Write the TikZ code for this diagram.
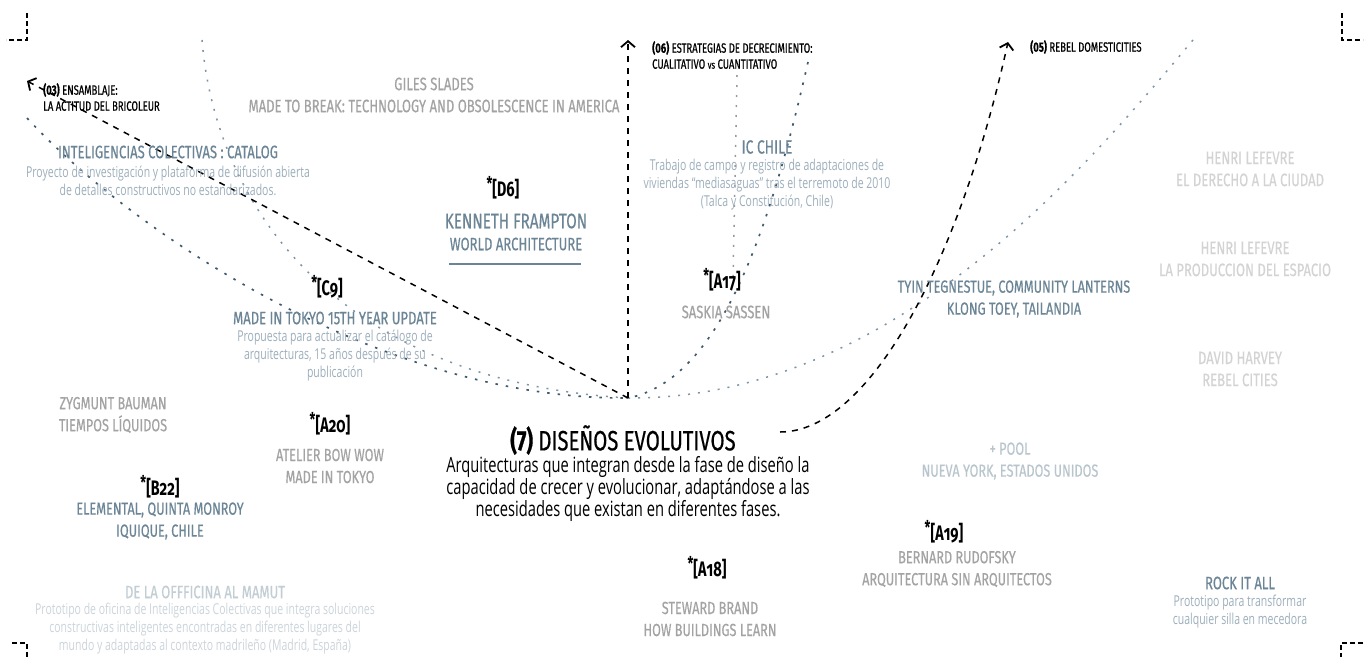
\documentclass[tikz,border=0pt]{standalone}
\usepackage{fontspec}
\usetikzlibrary{arrows.meta}
\newfontfamily\hd[FakeStretch=0.725,FakeBold=0.5]{Fira Sans}
\newfontfamily\hdo[FakeStretch=0.7,Numbers=OldStyle]{Fira Sans}
\newfontfamily\tgf[FakeStretch=0.68]{Fira Sans}
\newfontfamily\lb[FakeStretch=0.7,FakeBold=0.6]{Fira Sans}
\newfontfamily\ds[FakeStretch=0.7]{Open Sans}
\definecolor{cblue}{HTML}{6B8596}
\definecolor{cdesc}{HTML}{9CAEBB}
\definecolor{cgray}{HTML}{A3A3A3}
\definecolor{cvlight}{HTML}{D3D3D3}
\definecolor{cpool}{HTML}{B9C5CD}
\definecolor{cmamut}{HTML}{C3CDD4}
\definecolor{cmamutd}{HTML}{CBD4DA}
\definecolor{cdotdark}{HTML}{3F5A6C}
\definecolor{cdotlight}{HTML}{7D95A6}
\definecolor{cdotgray}{HTML}{9A9A9A}
\newcommand\tg[2]{\raisebox{0.3em}{\fontsize{19}{19}\selectfont *}[#1{\hdo\bfseries #2}]}
\begin{document}
\begin{tikzpicture}[x=1pt,y=-1pt,
  every node/.style={inner sep=0pt},
  head/.style={font=\hd\fontsize{18}{22}\selectfont, align=center},
  hgray/.style={head, text=cgray},
  hblue/.style={head, text=cblue},
  hvlight/.style={head, text=cvlight},
  desc/.style={font=\ds\fontsize{15}{18}\selectfont, text=cdesc, align=center},
  tagst/.style={font=\tgf\bfseries\fontsize{21}{24}\selectfont, text=black},
  lab/.style={font=\lb\fontsize{13.5}{16}\selectfont, text=black, align=left, anchor=west},
  blackdash/.style={draw=black, line width=1.5pt, dash pattern=on 6pt off 6pt},
  dotdark/.style={draw=cdotdark, line width=1.7pt, dash pattern=on 2.5pt off 8pt},
  dotlight/.style={draw=cdotlight, line width=1.5pt, dash pattern=on 2pt off 8pt},
  dotgray/.style={draw=cdotgray, line width=1.5pt, dash pattern=on 2pt off 8pt},
  corner/.style={draw=black, line width=2pt, dash pattern=on 5pt off 3pt},
  barb/.style={-{Straight Barb[length=6pt,width=14pt,line width=1.8pt]}}
]
\useasboundingbox (0,0) rectangle (1365,657);

% corner marks
\coordinate (tl1) at (27,13); \coordinate (tl2) at (27,40); \coordinate (tl3) at (6,40);
\draw[corner] (tl1) -- (tl2) -- (tl3);
\coordinate (tr1) at (1342,13); \coordinate (tr2) at (1342,40); \coordinate (tr3) at (1363,40);
\draw[corner] (tr1) -- (tr2) -- (tr3);
\coordinate (bl1) at (12,643); \coordinate (bl2) at (27,643); \coordinate (bl3) at (27,657);
\draw[corner] (bl1) -- (bl2) -- (bl3);
\coordinate (br1) at (1363,643); \coordinate (br2) at (1341,643); \coordinate (br3) at (1341,657);
\draw[corner] (br1) -- (br2) -- (br3);

% hub and line ends
\coordinate (hub) at (628,398);
\coordinate (e06) at (628,40);
\coordinate (e03) at (27,81);
\coordinate (e05) at (1008,42);
\coordinate (s7) at (780,432);
\coordinate (pL) at (27,118);
\coordinate (pT) at (202,40);
\coordinate (pV1) at (737,75);
\coordinate (pV2) at (733,280);
\coordinate (pR1) at (808,62);
\coordinate (pR2) at (1193,40);

% dotted connectors
\draw[dotdark] (pL) .. controls (130,230) and (380,400) .. (hub);
\draw[dotlight] (pT) .. controls (215,200) and (330,380) .. (hub);
\draw[dotgray] (pV1) -- (pV2);
\draw[dotdark] (pR1) .. controls (770,230) and (720,380) .. (hub);
\draw[dotlight] (pR2) .. controls (1100,150) and (900,400) .. (hub);

% dashed arrows
\draw[blackdash, barb] (hub) -- (e06);
\draw[blackdash, barb] (hub) -- (e03);
\draw[blackdash, barb] (s7) .. controls (870,432) and (960,260) .. (e05);

% labels
\node[lab] (l03) at (43,97) {{\bfseries (03)} ENSAMBLAJE:\\LA ACTITUD DEL BRICOLEUR};
\node[lab] (l06) at (652,55) {{\bfseries (06)} ESTRATEGIAS DE DECRECIMIENTO:\\CUALITATIVO {\fontsize{11}{16}\selectfont vs} CUANTITATIVO};
\node[lab] (l05) at (1030,47) {{\bfseries (05)} REBEL DOMESTICITIES};

% heads
\node[hgray] (giles) at (434,95) {GILES SLADES\\MADE TO BREAK: TECHNOLOGY AND OBSOLESCENCE IN AMERICA};
\node[hblue] (intel) at (168,152) {INTELIGENCIAS COLECTIVAS : CATALOG};
\node[desc] (inteld) at (168,181) {Proyecto de investigación y plataforma de difusión abierta\\de detalles constructivos no estandarizados.};
\node[tagst] (d6) at (503,188) {\tg{D}{6}};
\node[hblue] (kf) at (516,232) {{\fontsize{21}{22}\selectfont KENNETH FRAMPTON}\\WORLD ARCHITECTURE};
\coordinate (kfu1) at (449,264); \coordinate (kfu2) at (581,264);
\draw[cblue, line width=2pt] (kfu1) -- (kfu2);
\node[hblue, font=\hd\fontsize{19}{22}\selectfont] (icc) at (767,147) {IC CHILE};
\node[desc] (iccd) at (767,185) {Trabajo de campo y registro de adaptaciones de\\viviendas “mediasaguas” tras el terremoto de 2010\\(Talca y Constitución, Chile)};
\node[hvlight] (hl1) at (1250,169) {HENRI LEFEVRE\\EL DERECHO A LA CIUDAD};
\node[hvlight] (hl2) at (1245,259) {HENRI LEFEVRE\\LA PRODUCCION DEL ESPACIO};
\node[hvlight] (dh) at (1240,369) {DAVID HARVEY\\REBEL CITIES};
\node[hblue, font=\hd\fontsize{17.5}{22}\selectfont] (tyin) at (1014,299) {TYIN TEGNESTUE, COMMUNITY LANTERNS\\KLONG TOEY, TAILANDIA};
\node[tagst] (a17) at (722,280) {\tg{A}{17}};
\node[hgray] (saskia) at (726,312) {SASKIA SASSEN};
\node[tagst] (c9) at (327,287) {\tg{C}{9}};
\node[hblue] (mit) at (335,318) {MADE IN TOKYO 15TH YEAR UPDATE};
\node[desc] (mitd) at (335,356) {Propuesta para actualizar el catálogo de\\arquitecturas, 15 años después de su\\publicación};
\node[hgray, font=\hd\fontsize{17.5}{22}\selectfont] (zb) at (113,415) {ZYGMUNT BAUMAN\\TIEMPOS LÍQUIDOS};
\node[tagst] (a20) at (330,424) {\tg{A}{20}};
\node[hgray, font=\hd\fontsize{17.5}{22}\selectfont] (abw) at (330,466) {ATELIER BOW WOW\\MADE IN TOKYO};
\node[tagst] (b22) at (160,487) {\tg{B}{22}};
\node[hblue, font=\hd\fontsize{17.5}{22}\selectfont] (elem) at (160,521) {ELEMENTAL, QUINTA MONROY\\IQUIQUE, CHILE};
\node[font=\hd\fontsize{28}{30}\selectfont, text=black] (t7) at (623,440) {{\bfseries (7)} DISEÑOS EVOLUTIVOS};
\node[font=\ds\fontsize{21}{22}\selectfont, text=black, align=center] (t7d) at (628,489) {Arquitecturas que integran desde la fase de diseño la\\capacidad de crecer y evolucionar, adaptándose a las\\necesidades que existan en diferentes fases.};
\node[head, text=cpool, font=\hd\fontsize{17.5}{22}\selectfont] (pool) at (1010,461) {+ POOL\\NUEVA YORK, ESTADOS UNIDOS};
\node[tagst] (a19) at (944,532) {\tg{A}{19}};
\node[hgray, font=\hd\fontsize{17.5}{22}\selectfont] (br) at (957,569) {BERNARD RUDOFSKY\\ARQUITECTURA SIN ARQUITECTOS};
\node[tagst] (a18) at (707,568) {\tg{A}{18}};
\node[hgray, font=\hd\fontsize{17.5}{22}\selectfont] (sb) at (710,619) {STEWARD BRAND\\HOW BUILDINGS LEARN};
\node[head, text=cmamut] (mam) at (205,592) {DE LA OFFFICINA AL MAMUT};
\node[desc, text=cmamutd] (mamd) at (205,629) {Prototipo de oficina de Inteligencias Colectivas que integra soluciones\\constructivas inteligentes encontradas en diferentes lugares del\\mundo y adaptadas al contexto madrileño (Madrid, España)};
\node[hblue] (rock) at (1240,583) {ROCK IT ALL};
\node[desc] (rockd) at (1240,612) {Prototipo para transformar\\cualquier silla en mecedora};
\end{tikzpicture}
\end{document}
